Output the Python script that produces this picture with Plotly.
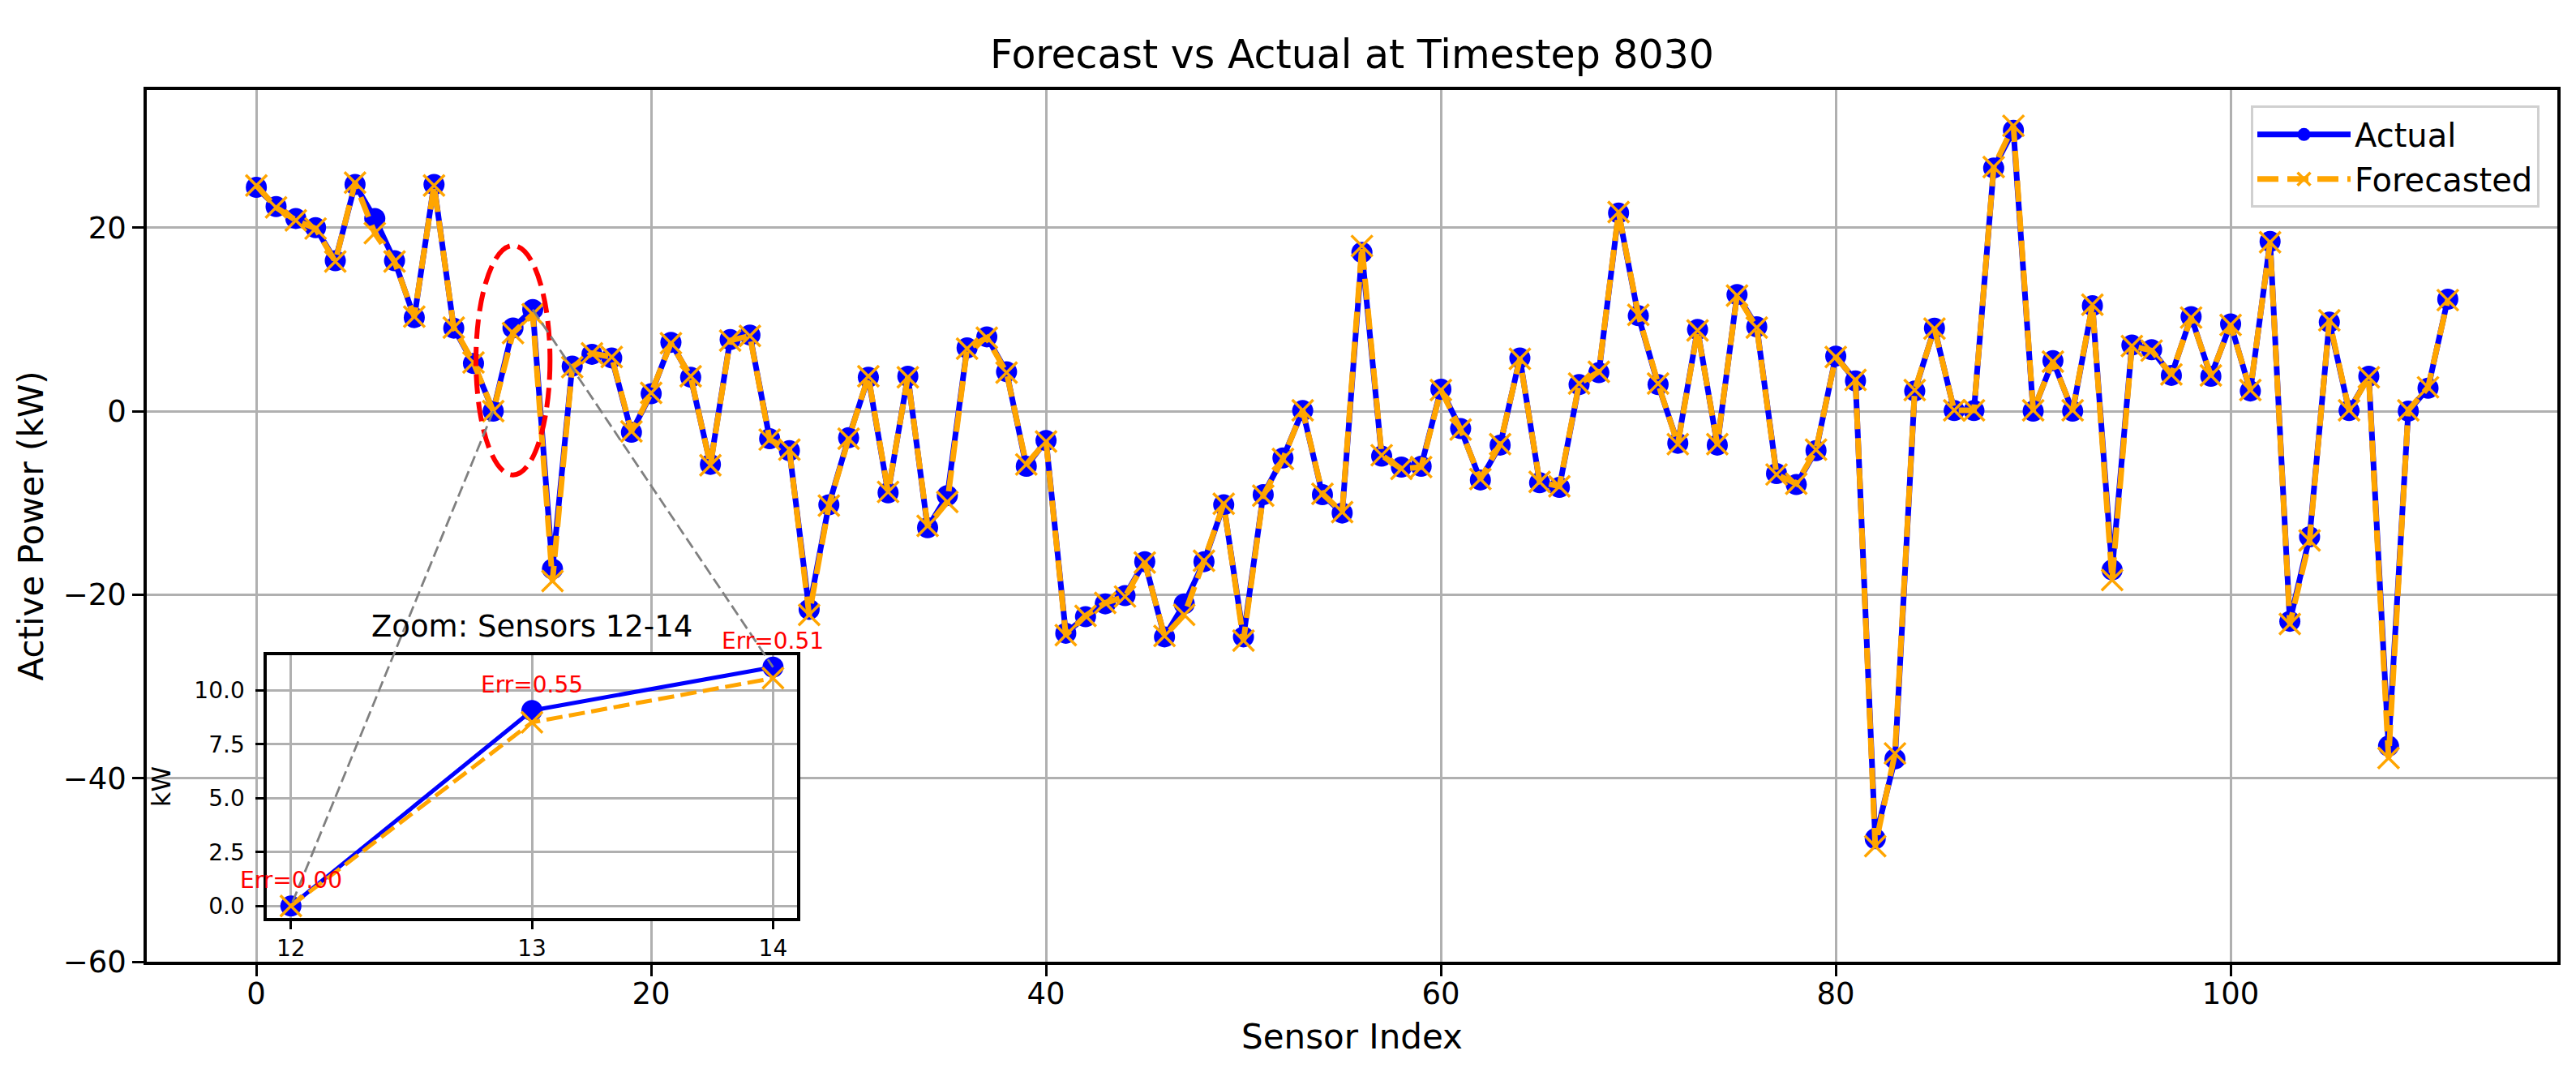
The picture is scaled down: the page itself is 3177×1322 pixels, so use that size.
import plotly.graph_objects as go

# ---------------- data ----------------
sensor_index = list(range(112))

actual = [
    24.4, 22.3, 21.0, 20.0, 16.4, 24.7, 21.0, 16.4, 10.2, 24.7,
    9.05, 5.2, 0.0, 9.07, 11.08, -17.2, 4.9, 6.2, 5.8, -2.3,
    1.9, 7.5, 3.7, -5.8, 7.8, 8.3, -3.0, -4.3, -21.6, -10.2,
    -2.9, 3.7, -8.9, 3.8, -12.7, -9.2, 6.9, 8.1, 4.3, -6.0,
    -3.2, -24.2, -22.4, -21.0, -20.1, -16.4, -24.6, -21.0, -16.4, -10.2,
    -24.6, -9.1, -5.1, 0.06, -9.1, -11.1, 17.3, -4.9, -6.1, -6.0,
    2.4, -1.9, -7.5, -3.7, 5.8, -7.8, -8.3, 2.9, 4.2, 21.6,
    10.4, 2.9, -3.5, 8.9, -3.7, 12.7, 9.2, -6.8, -8.0, -4.3,
    6.0, 3.3, -46.6, -37.9, 2.2, 9.05, 0.06, 0.06, 26.5, 30.6,
    0.0, 5.5, 0.0, 11.5, -17.3, 7.2, 6.7, 3.9, 10.3, 3.8,
    9.5, 2.2, 18.5, -22.9, -13.7, 9.7, 0.06, 3.8, -36.5, 0.0,
    2.5, 12.2,
]

forecast = [
    24.6, 22.2, 20.8, 19.9, 16.3, 24.9, 19.4, 16.3, 10.3, 24.6,
    9.1, 5.3, 0.0, 8.52, 10.57, -18.5, 4.8, 6.3, 5.9, -2.2,
    2.0, 7.4, 3.8, -5.9, 7.7, 8.2, -3.1, -4.2, -22.2, -10.3,
    -3.0, 3.8, -8.8, 3.7, -12.5, -9.9, 6.8, 8.0, 4.2, -5.8,
    -3.3, -24.4, -22.3, -20.9, -20.2, -16.5, -24.5, -22.2, -16.3, -10.1,
    -25.0, -9.2, -5.2, 0.1, -9.0, -11.0, 18.0, -4.8, -6.3, -6.1,
    2.3, -2.0, -7.4, -3.6, 5.7, -7.7, -8.2, 3.0, 4.3, 21.7,
    10.5, 3.0, -3.6, 8.8, -3.6, 12.6, 9.1, -6.9, -7.9, -4.2,
    5.9, 3.4, -47.4, -37.3, 2.3, 9.0, 0.1, 0.1, 26.6, 31.1,
    0.1, 5.4, 0.1, 11.6, -18.4, 7.1, 6.6, 4.0, 10.2, 3.9,
    9.4, 2.3, 18.4, -23.2, -14.1, 9.9, 0.1, 3.7, -37.8, 0.1,
    2.6, 12.1,
]

zoom_idx = [12, 13, 14]
x_tick_vals = [0, 20, 40, 60, 80, 100]
y_tick_vals = [-60, -40, -20, 0, 20]
inset_y_ticks = [0.0, 2.5, 5.0, 7.5, 10.0]

title_text = "Forecast vs Actual at Timestep 8030"
x_label = "Sensor Index"
y_label = "Active Power (kW)"
inset_title = "Zoom: Sensors 12-14"
inset_ylabel = "kW"

# ---------------- style / layout constants ----------------
W, H = 3177, 1322
OFF = 9  # page body offset
ML, MR, MT, MB = 182 - OFF, 22 + OFF, 112 - OFF, 135 + OFF
FONT = "DejaVu Sans"
BLUE = "#0000FF"
ORANGE = "#FFA500"
GRID = "#b0b0b0"

X_RANGE = [-5.55, 116.55]
Y_RANGE = [-60, 35]
INSET_DOM_X = [0.0498, 0.2698]
INSET_DOM_Y = [0.0502, 0.3516]
ELLIPSE_W = 3.75
ELLIPSE_H = 25.0

# inset data (taken from the same arrays)
zx = [sensor_index[i] for i in zoom_idx]
za = [actual[i] for i in zoom_idx]
zf = [forecast[i] for i in zoom_idx]
lo = min(min(za), min(zf))
hi = max(max(za), max(zf))
pad = 0.05 * (hi - lo)
INSET_Y_RANGE = [lo - pad, hi + pad]
xpad = 0.05 * (max(zx) - min(zx))
INSET_X_RANGE = [min(zx) - xpad, max(zx) + xpad]

fig = go.Figure()

# main traces
fig.add_trace(go.Scatter(
    x=sensor_index, y=actual, mode="lines+markers", name="Actual",
    line=dict(color=BLUE, width=7),
    marker=dict(symbol="circle", size=26, color=BLUE),
    xaxis="x", yaxis="y",
))
fig.add_trace(go.Scatter(
    x=sensor_index, y=forecast, mode="lines+markers", name="Forecasted",
    line=dict(color=ORANGE, width=7, dash="26px,11px"),
    marker=dict(symbol="x-thin", size=26, color=ORANGE,
                line=dict(color=ORANGE, width=3.5)),
    xaxis="x", yaxis="y",
))

# inset traces
fig.add_trace(go.Scatter(
    x=zx, y=za, mode="lines+markers", showlegend=False,
    line=dict(color=BLUE, width=5),
    marker=dict(symbol="circle", size=26, color=BLUE),
    xaxis="x2", yaxis="y2",
))
fig.add_trace(go.Scatter(
    x=zx, y=zf, mode="lines+markers", showlegend=False,
    line=dict(color=ORANGE, width=5, dash="20px,8px"),
    marker=dict(symbol="x-thin", size=26, color=ORANGE,
                line=dict(color=ORANGE, width=3.5)),
    xaxis="x2", yaxis="y2",
))


def to_paper(v, rng, dom):
    return dom[0] + (v - rng[0]) / (rng[1] - rng[0]) * (dom[1] - dom[0])


shapes = []
# red dashed ellipse around the zoom region
cx = sum(zx) / len(zx)
cy = (min(za) + max(za)) / 2
shapes.append(dict(
    type="circle", xref="x", yref="y",
    x0=cx - ELLIPSE_W / 2, x1=cx + ELLIPSE_W / 2,
    y0=cy - ELLIPSE_H / 2, y1=cy + ELLIPSE_H / 2,
    line=dict(color="red", width=6, dash="24px,10px"), layer="above",
))
# connector lines main point -> inset point
for i in (zoom_idx[0], zoom_idx[-1]):
    xm = to_paper(sensor_index[i], X_RANGE, [0, 1])
    ym = to_paper(actual[i], Y_RANGE, [0, 1])
    xi = to_paper(sensor_index[i], INSET_X_RANGE, INSET_DOM_X)
    yi = to_paper(actual[i], INSET_Y_RANGE, INSET_DOM_Y)
    shapes.append(dict(
        type="line", xref="paper", yref="paper", x0=xm, y0=ym, x1=xi, y1=yi,
        line=dict(color="gray", width=2.8, dash="14px,6px"), layer="above",
    ))

annotations = []
for xv, a, f in zip(zx, za, zf):
    annotations.append(dict(
        x=xv, y=a + 0.5, xref="x2", yref="y2", text=f"Err={abs(a - f):.2f}",
        showarrow=False, yanchor="bottom", xanchor="center",
        font=dict(family=FONT, size=28, color="red"),
    ))
annotations.append(dict(
    x=(INSET_DOM_X[0] + INSET_DOM_X[1]) / 2, y=INSET_DOM_Y[1], xref="paper", yref="paper",
    text=inset_title, showarrow=False, yanchor="bottom", xanchor="center", yshift=12,
    font=dict(family=FONT, size=37, color="black"),
))

axis_common = dict(
    showline=True, linecolor="black", linewidth=3.5, mirror=True,
    ticks="outside", tickcolor="black", tickwidth=3.3,
    showgrid=True, gridcolor=GRID, gridwidth=3, zeroline=False,
)

fig.update_layout(
    width=W, height=H,
    margin=dict(l=ML, r=MR, t=MT, b=MB, autoexpand=False),
    paper_bgcolor="white", plot_bgcolor="white",
    font=dict(family=FONT, color="black"),
    title=dict(text=title_text, xref="paper", x=0.5, xanchor="center",
               y=1 - (68 - OFF) / H, yanchor="middle",
               font=dict(family=FONT, size=49, color="black")),
    xaxis=dict(domain=[0, 1], range=X_RANGE, tickvals=x_tick_vals, ticklen=14,
               ticklabelstandoff=-10,
               tickfont=dict(size=37), title=dict(text=x_label, font=dict(size=42), standoff=18),
               anchor="y", **axis_common),
    yaxis=dict(domain=[0, 1], range=Y_RANGE, tickvals=y_tick_vals, ticklen=14,
               tickfont=dict(size=37), title=dict(text=y_label, font=dict(size=42), standoff=12),
               anchor="x", **axis_common),
    xaxis2=dict(domain=INSET_DOM_X, range=INSET_X_RANGE, tickvals=zx, ticklen=10,
                tickfont=dict(size=28), anchor="y2", **axis_common),
    yaxis2=dict(domain=INSET_DOM_Y, range=INSET_Y_RANGE, tickvals=inset_y_ticks, ticklen=10,
                ticklabelstandoff=8,
                tickformat=".1f", tickfont=dict(size=28),
                title=dict(text=inset_ylabel, font=dict(size=32), standoff=20),
                anchor="x2", **axis_common),
    legend=dict(x=0.9926, y=0.982, xanchor="right", yanchor="top",
                bgcolor="rgba(255,255,255,0.8)", bordercolor="#d0d0d0", borderwidth=3,
                font=dict(family=FONT, size=40, color="black"), itemwidth=115),
    shapes=shapes, annotations=annotations,
    showlegend=True,
)

fig.write_html("out.html")
